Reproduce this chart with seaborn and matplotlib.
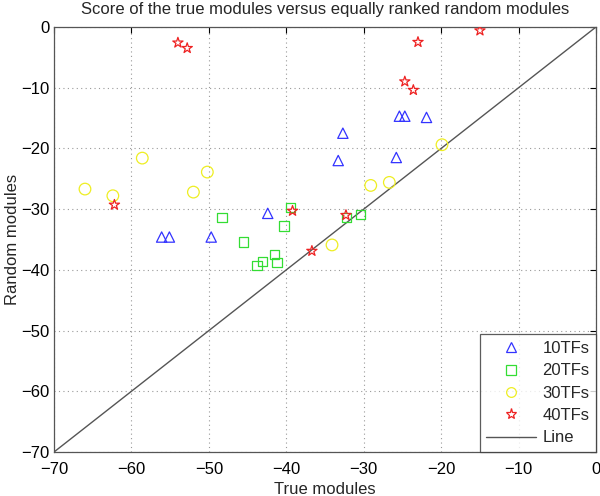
import matplotlib
matplotlib.use("Agg")
import matplotlib.pyplot as plt
import seaborn as sns
from matplotlib.lines import Line2D

sns.set_style("white")
plt.rcParams['font.family'] = ['Liberation Sans', 'DejaVu Sans']

tf10_x = [-56.1, -55.1, -49.7, -42.4, -33.3, -32.7, -25.8, -25.4, -24.7, -21.9]
tf10_y = [-34.6, -34.6, -34.6, -30.7, -22.0, -17.5, -21.5, -14.7, -14.7, -14.9]
tf20_x = [-48.3, -45.5, -39.5, -40.3, -41.5, -41.2, -43.1, -43.8, -32.2, -30.4]
tf20_y = [-31.4, -35.4, -29.7, -32.8, -37.5, -38.8, -38.6, -39.3, -31.4, -30.9]
tf30_x = [-66.0, -62.4, -58.6, -52.0, -50.2, -34.1, -29.1, -26.7, -19.9]
tf30_y = [-26.7, -27.8, -21.6, -27.2, -23.9, -35.9, -26.1, -25.6, -19.4]
tf40_x = [-54.0, -52.8, -62.2, -39.2, -36.7, -32.3, -15.0, -23.0, -24.7, -23.6]
tf40_y = [-2.6, -3.5, -29.3, -30.3, -36.9, -31.0, -0.6, -2.5, -9.0, -10.4]
line_x = [-70, 0]
line_y = [-70, 0]
ticks = [-70, -60, -50, -40, -30, -20, -10, 0]

fig = plt.figure(figsize=(6.0, 4.96), dpi=100)
ax = fig.add_axes([0.09, 0.0887, 0.9035, 0.857])

sns.lineplot(x=line_x, y=line_y, color='#555555', linewidth=1.0, ax=ax, zorder=1)

series = [
    (tf10_x, tf10_y, '^', '#3333ff', 55, '10TFs'),
    (tf20_x, tf20_y, 's', '#33dd33', 45, '20TFs'),
    (tf30_x, tf30_y, 'o', '#eeee22', 70, '30TFs'),
    (tf40_x, tf40_y, '*', '#ee2222', 60, '40TFs'),
]
handles = []
for xs, ys, mk, col, sz, lab in series:
    sns.scatterplot(x=xs, y=ys, marker=mk, s=sz, ax=ax, zorder=3,
                    facecolors='none', edgecolors=col, linewidths=0.9)
    handles.append(Line2D([], [], linestyle='none', marker=mk, markersize=7 if mk != '*' else 8,
                          markerfacecolor='none', markeredgecolor=col,
                          markeredgewidth=0.9, label=lab))
handles.append(Line2D([], [], color='#555555', linewidth=1.0, label='Line'))

ax.set_xlim(-70, 0)
ax.set_ylim(-70, 0)
ax.set_xticks(ticks)
ax.set_yticks(ticks)
ax.grid(True, linestyle=(0, (1, 3)), color='#999999', linewidth=0.8)
ax.tick_params(direction='in', length=4, top=True, right=True,
               labelsize=12, colors='black')
ax.tick_params(axis='x', pad=7)
ax.tick_params(axis='y', pad=3)
for s in ax.spines.values():
    s.set_color('#555555')
    s.set_linewidth(0.9)

ax.set_title('Score of the true modules versus equally ranked random modules',
             fontsize=12, pad=9)
ax.set_xlabel('True modules', fontsize=12, labelpad=3.5)
ax.set_ylabel('Random modules', fontsize=12, labelpad=1)

leg = ax.legend(handles=handles, loc='lower right', fontsize=12,
                frameon=True, fancybox=False, borderaxespad=0,
                handlelength=3.0, labelspacing=0.44, borderpad=0.4,
                handletextpad=0.35)
leg.get_frame().set_edgecolor('#333333')
leg.get_frame().set_linewidth(0.9)

fig.savefig('out.png', dpi=100)
